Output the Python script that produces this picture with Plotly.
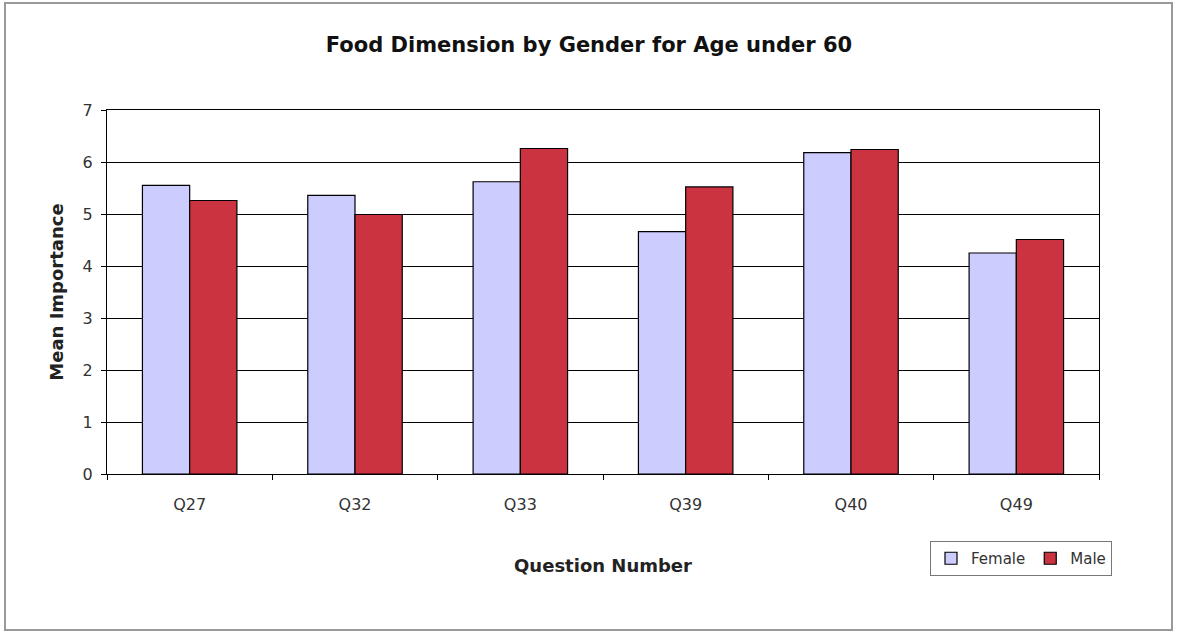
import plotly.graph_objects as go

categories = ["Q27", "Q32", "Q33", "Q39", "Q40", "Q49"]
female = [5.55, 5.36, 5.62, 4.66, 6.18, 4.25]
male = [5.26, 4.99, 6.26, 5.52, 6.24, 4.51]
y_ticks = [0, 1, 2, 3, 4, 5, 6, 7]

L, R, T, B = 107, 80, 110, 160
W, H = 1179, 634
pw, ph = W - L - R, H - T - B

def px_x(p):
    return (p - L) / pw

def px_y(p):
    return (H - B - p) / ph

font = "DejaVu Sans, Liberation Sans, Arial, sans-serif"

fig = go.Figure()
fig.add_trace(go.Bar(name="Female", x=categories, y=female,
                     marker=dict(color="#ccccff", line=dict(color="#000000", width=1.2))))
fig.add_trace(go.Bar(name="Male", x=categories, y=male,
                     marker=dict(color="#cc3340", line=dict(color="#000000", width=1.2))))

fig.update_layout(
    width=W, height=H,
    margin=dict(l=L, r=R, t=T, b=B),
    paper_bgcolor="white", plot_bgcolor="white",
    barmode="group", bargap=1.5 / 3.5, bargroupgap=0,
    font=dict(family=font, color="#000000", size=14),
    title=dict(text="<b>Food Dimension by Gender for Age under 60</b>",
               x=px_x(589), xref="paper", xanchor="center", y=1 - 45 / H, yanchor="middle",
               font=dict(size=21, family=font, color="#111111")),
    xaxis=dict(
        type="category", showline=True, linecolor="#000000", linewidth=1, mirror=True,
        ticks="outside", tickson="boundaries", ticklen=5, tickcolor="#000000",
        ticklabelstandoff=16,
        tickfont=dict(size=16, color="#333333"), showgrid=False,
        title=dict(text="<b>Question Number</b>", font=dict(size=18, color="#222222"), standoff=46),
    ),
    yaxis=dict(
        range=[0, 7], tickvals=y_ticks, showline=True, linecolor="#000000", linewidth=1, mirror=True,
        ticks="outside", ticklen=5, tickcolor="#000000", ticklabelstandoff=5,
        showgrid=True, gridcolor="#000000", gridwidth=0.8,
        tickfont=dict(size=16, color="#333333"), zeroline=False,
        title=dict(text="<b>Mean Importance</b>", font=dict(size=18, color="#222222"), standoff=14),
    ),
    legend=dict(orientation="h", x=px_x(930), y=px_y(541), xanchor="left", yanchor="top",
                bordercolor="#777777", borderwidth=1, bgcolor="white",
                font=dict(size=15, color="#333333"), traceorder="normal",
                itemwidth=30),
    shapes=[dict(type="rect", xref="paper", yref="paper",
                 x0=px_x(5), x1=px_x(1172), y0=px_y(630), y1=px_y(3),
                 line=dict(color="#999999", width=2), layer="below")],
)

fig.write_html("out.html")
